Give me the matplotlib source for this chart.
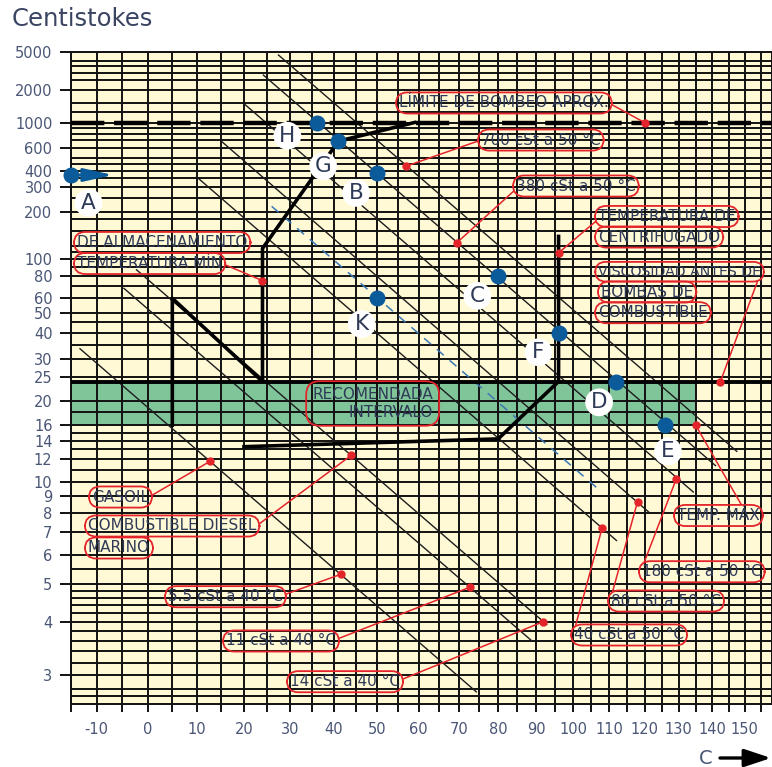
import numpy as np
import matplotlib
matplotlib.use('Agg')
import matplotlib.pyplot as plt

# Viscosity / temperature chart with ASTM D341 style axes:
# x ~ log(T in K), y ~ log(log(cSt + c))
C_SHIFT = 0.85


def temp_fwd(t):
    return np.log10(np.asarray(t, float) + 273.15)


def temp_inv(u):
    return 10 ** np.asarray(u, float) - 273.15


def visc_fwd(v):
    v = np.asarray(v, float)
    with np.errstate(divide='ignore', invalid='ignore'):
        return np.log10(np.log10(v + C_SHIFT))


def visc_inv(f):
    f = np.asarray(f, float)
    with np.errstate(over='ignore'):
        return 10 ** (10 ** f) - C_SHIFT


# ---- data ----
y_ticks = [5000, 2000, 1000, 600, 400, 300, 200, 100, 80, 60, 50, 40, 30, 25,
           20, 16, 14, 12, 10, 9, 8, 7, 6, 5, 4, 3]
x_ticks = list(range(-10, 151, 10))
x_minor = list(range(-15, 156, 10))

visc_grid = [5000, 4000, 3500, 3000, 2500, 2000, 1500, 1250, 1000, 900, 800, 700,
             600, 500, 450, 400, 350, 300, 250, 200, 180, 150, 120, 110, 100, 90,
             80, 70, 60, 50, 45, 40, 35, 30, 25, 20, 18, 16, 15, 14, 13, 12, 11,
             10, 9, 8, 7, 6, 5.5, 5, 4.8, 4.6, 4.4, 4.2, 4, 3.8, 3.6, 3.4,
             3.2, 3, 2.8, 2.7]
temp_grid = list(range(-15, 160, 5))

# fuel grade lines (start temp, start cSt) -> (end temp, end cSt)
grade_names = ['700 cSt a 50 °C', '380 cSt a 50 °C', '180 cSt a 50 °C',
               '80 cSt a 50 °C', '40 cSt a 50 °C', '14 cSt a 40 °C',
               '11 cSt a 40 °C', '5.5 cSt a 40 °C']
grade_t0 = [27.5, 24.2, 20.2, 15.2, 10.0, -2.2, -4.7, -13.2]
grade_v0 = [4600, 2830, 1460, 688, 358, 86.5, 68, 33.6]
grade_t1 = [147.5, 141, 134.3, 121.4, 112, 92.8, 88.8, 74.4]
grade_v1 = [12.8, 11.4, 9.3, 8.0, 6.6, 3.94, 3.6, 2.76]

# 60 cSt at 50 °C reference (blue dashed)
ref_t = [26, 106.5]
ref_v = [219, 9.6]

# storage heating path and centrifuge/injection path
storage_t = [5, 5, 24, 24, 41, 59]
storage_v = [16, 60, 24, 116, 690, 1000]
centrif_t = [20, 80, 96, 96]
centrif_v = [13.3, 14.2, 24, 138]

# recommended injection band
band_t = [-15, 135]
band_lo, band_hi = 16, 24
pump_limit = 1000

# process points
point_names = ['A', 'H', 'G', 'B', 'C', 'K', 'F', 'D', 'E']
point_t = [-15, 36, 41, 50, 80, 50, 96, 112, 126]
point_v = [370, 1000, 690, 380, 80, 60, 40, 24, 16]

# red pointer marks
mark_t = [120, 57, 69.5, 96, 142.5, 24, 12.8, 44, 41.5, 72.8, 91.8, 135, 129.3, 118, 108]
mark_v = [1000, 433, 126, 109, 24, 75, 11.8, 12.4, 5.3, 4.9, 4.0, 16, 10.3, 8.66, 7.2]

RED = '#e3242b'
NAVY = '#2f3a58'
AXIS_TXT = '#4a5676'
BLUE = '#0b5a9a'

fig = plt.figure(figsize=(7.72, 7.67), dpi=100)
ax = fig.add_axes([70.5 / 772, 1 - 704 / 767, 1 - 70.5 / 772, (704 - 51.7) / 767])
ax.set_xscale('function', functions=(temp_fwd, temp_inv))
ax.set_yscale('function', functions=(visc_fwd, visc_inv))
ax.set_xlim(-15, 158.5)
ax.set_ylim(2.6, 5000)
ax.set_facecolor('#fff9d5')

ax.fill_between(band_t, band_lo, band_hi, color='#80c599', lw=0, zorder=1)

ax.vlines(temp_grid, 2.6, 5000, colors='#111111', lw=1.4, zorder=2)
ax.hlines(visc_grid, -15, 158.5, colors='#111111', lw=1.4, zorder=2)

for t0, v0, t1, v1 in zip(grade_t0, grade_v0, grade_t1, grade_v1):
    ax.plot([t0, t1], [v0, v1], color='#1c1c1c', lw=1.0, zorder=3)
ax.plot(ref_t, ref_v, color='#3a78b5', lw=1.1, dashes=(6, 5), zorder=3)

ax.plot(storage_t, storage_v, color='black', lw=2.6, zorder=4)
ax.plot(centrif_t, centrif_v, color='black', lw=2.6, zorder=4)
ax.hlines(band_hi, -15, 158.5, colors='black', lw=2.8, zorder=4)
ax.axhline(pump_limit, color='black', lw=3.2, dashes=(7.5, 2.2), zorder=4)

for s in ax.spines.values():
    s.set_color('#111111')
    s.set_linewidth(1.4)

ax.set_yticks(y_ticks, [str(v) for v in y_ticks])
ax.yaxis.set_minor_locator(matplotlib.ticker.NullLocator())
ax.set_xticks(x_ticks, [str(t) for t in x_ticks])
ax.set_xticks(x_minor, minor=True)
ax.tick_params(axis='both', which='both', direction='out', color='#111111',
               width=1.4, labelcolor=AXIS_TXT, labelsize=10.5)
ax.tick_params(axis='y', length=8, pad=5)
ax.tick_params(axis='x', which='both', length=6, pad=7)

# red pointers and rounded labels
ax.plot(mark_t, mark_v, 'o', ms=5, color=RED, zorder=6)

box = dict(boxstyle='round,pad=0.2,rounding_size=0.75', fc='none', ec=RED, lw=1.3)
lbl_kw = dict(color=NAVY, ha='left', va='center', zorder=6)

# text, mark index, text position (axes fraction), leader start, font size
pointer_labels = [
    ('LÍMITE DE BOMBEO APROX.', 0, (0.4683, 0.9214), (1, 0.5), 11),
    (grade_names[0], 1, (0.5852, 0.8646), (0, 0.5), 11),
    (grade_names[1], 2, (0.6351, 0.7941), (0, 0.3), 11),
    ('TEMPERATURA DE', 3, (0.7520, 0.7474), (0, 0.3), 11),
    ('VISCOSIDAD ANTES DE', 4, (0.7520, 0.6627), (1, 0.5), 10.2),
    ('TEMPERATURA MÍN', 5, (0.0093, 0.6753), (1, 0.5), 11),
    ('GASOIL', 6, (0.0306, 0.3173), (1, 0.5), 11),
    ('COMBUSTIBLE DIESEL', 7, (0.0249, 0.2729), (1, 0.5), 11),
    (grade_names[7], 8, (0.1390, 0.1645), (1, 0.6), 11),
    (grade_names[6], 9, (0.2217, 0.0966), (1, 0.6), 11),
    (grade_names[5], 10, (0.3129, 0.0342), (1, 0.6), 11),
    ('TEMP. MÁX', 11, (0.8646, 0.2890), (0.8, 1), 11),
    (grade_names[2], 12, (0.8147, 0.2028), (0, 0.75), 11),
    (grade_names[3], 13, (0.7705, 0.1579), (0, 0.75), 11),
    (grade_names[4], 14, (0.7178, 0.1058), (0, 0.75), 11),
]
for text, i, pos, rel, size in pointer_labels:
    ax.annotate(text, xy=(mark_t[i], mark_v[i]), xytext=pos, textcoords='axes fraction',
                bbox=box, fontsize=size,
                arrowprops=dict(arrowstyle='-', color=RED, lw=1.1,
                                shrinkA=0, shrinkB=0, relpos=rel),
                **lbl_kw)

plain_labels = [
    ('CENTRIFUGADO', (0.7520, 0.7159)),
    ('BOMBAS DE', (0.7562, 0.6316)),
    ('COMBUSTIBLE', (0.7520, 0.5999)),
    ('DE ALMACENAMIENTO', (0.0093, 0.7075)),
    ('MARINO', (0.0249, 0.2392)),
]
for text, pos in plain_labels:
    ax.text(pos[0], pos[1], text, transform=ax.transAxes, bbox=box, fontsize=11, **lbl_kw)

ax.text(0.5168, 0.4607, 'RECOMENDADA\nINTERVALO', transform=ax.transAxes,
        ha='right', va='center', multialignment='right', linespacing=1.2,
        fontsize=11, color=NAVY, zorder=6,
        bbox=dict(boxstyle='round,pad=0.4,rounding_size=0.9', fc='none', ec=RED, lw=1.3))

# process points with lettered callouts
ax.plot(point_t, point_v, 'o', ms=10.5, color=BLUE, zorder=7, clip_on=False)
ax.annotate('', xy=(-6.8, point_v[0]), xytext=(point_t[0], point_v[0]),
            arrowprops=dict(arrowstyle='-|>,head_length=0.9,head_width=0.2',
                            color=BLUE, lw=2.0, mutation_scale=20, shrinkA=0, shrinkB=0),
            zorder=7, annotation_clip=False)

letter_offsets = [(13, -20), (-21, -9.5), (-11, -18), (-15, -14), (-15, -14.5),
                  (-11, -18.5), (-14.5, -14), (-12.5, -15), (2, -19)]
for name, t, v, off in zip(point_names, point_t, point_v, letter_offsets):
    ax.annotate(name, xy=(t, v), xytext=off, textcoords='offset points',
                ha='center', va='center', fontsize=15.5, color=NAVY, zorder=8,
                annotation_clip=False,
                bbox=dict(boxstyle='circle,pad=0.18', fc='white', ec='none'))

fig.text(12 / 772, 1 - 19 / 767, 'Centistokes', fontsize=17.5, color='#3b4562',
         ha='left', va='center')
fig.text(712 / 772, 1 - 758 / 767, 'C', fontsize=14, color=AXIS_TXT,
         ha='right', va='center')
ax.annotate('', xy=(771, 9), xytext=(720, 9), xycoords='figure pixels',
            textcoords='figure pixels', annotation_clip=False,
            arrowprops=dict(arrowstyle='-|>,head_length=0.9,head_width=0.3',
                            color='black', lw=2.4, mutation_scale=18,
                            shrinkA=0, shrinkB=0))

fig.savefig('out.png', dpi=100)
